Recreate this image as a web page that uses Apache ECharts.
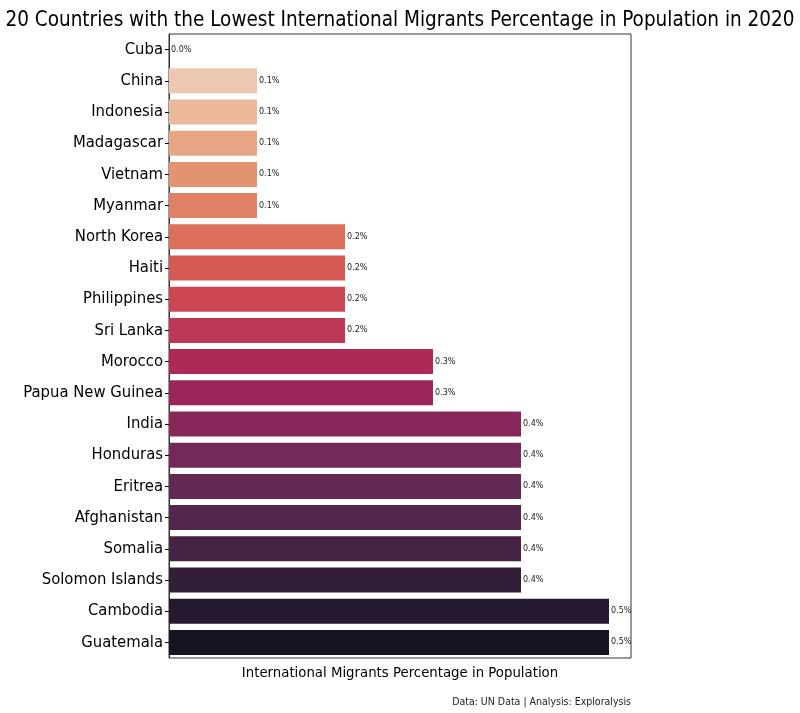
<!DOCTYPE html>
<html><head><meta charset="utf-8">
<script src="https://cdn.jsdelivr.net/npm/echarts@6/dist/echarts.min.js"></script>
<style>html,body{margin:0;padding:0;background:#fff}#c{width:800px;height:713px}</style>
</head><body><div id="c"></div>
<script>
const countries = ["Cuba","China","Indonesia","Madagascar","Vietnam","Myanmar","North Korea","Haiti","Philippines","Sri Lanka","Morocco","Papua New Guinea","India","Honduras","Eritrea","Afghanistan","Somalia","Solomon Islands","Cambodia","Guatemala"];
const migrantPct = [0.0,0.1,0.1,0.1,0.1,0.1,0.2,0.2,0.2,0.2,0.3,0.3,0.4,0.4,0.4,0.4,0.4,0.4,0.5,0.5];
const barColors = ["#f1d1bd","#ecc8b0","#eab89b","#e6a583","#e3936f","#e08064","#dc6e5c","#d65a54","#cc4753","#bd3856","#ad2a58","#9a2659","#872759","#742a58","#642953","#53264b","#442343","#331e38","#24192e","#151423"];
const titleText = "20 Countries with the Lowest International Migrants Percentage in Population in 2020";
const xName = "International Migrants Percentage in Population";
const sourceText = "Data: UN Data | Analysis: Exploralysis";

const chart = echarts.init(document.getElementById('c'), null, {renderer:'canvas'});
const F = "DejaVu Sans";
const FC = "DejaVu Sans Condensed";
chart.setOption({
  animation:false,
  backgroundColor:'#fff',
  title:{text:titleText,left:'center',top:5,textStyle:{fontFamily:FC,fontSize:20.5,fontWeight:'normal',color:'#000'}},
  grid:{left:169,right:169,top:34,bottom:55,show:true,borderColor:'#333',borderWidth:1,backgroundColor:'transparent',containLabel:false},
  xAxis:{type:'value',min:0,max:0.525,name:xName,nameLocation:'middle',nameGap:9,
    nameTextStyle:{fontFamily:F,fontSize:13.3,color:'#000'},
    axisLabel:{show:false},axisTick:{show:false},splitLine:{show:false},axisLine:{show:false}},
  yAxis:{type:'category',inverse:true,data:countries,
    axisLine:{show:true,lineStyle:{color:'#333'}},
    axisTick:{show:true,length:4,alignWithLabel:true,lineStyle:{color:'#000'}},
    axisLabel:{fontFamily:FC,fontSize:16.5,color:'#000',margin:6},
    splitLine:{show:false}},
  series:[{type:'bar',barWidth:'80%',
    data:migrantPct.map((v,i)=>({value:v,itemStyle:{color:barColors[i]}})),
    label:{show:true,position:'right',distance:2,fontFamily:F,fontSize:8,color:'#222',
      formatter:p=>p.value.toFixed(1)+'%'}}],
  graphic:[{type:'text',right:169,top:697,style:{text:sourceText,fontFamily:FC,fontSize:10.5,fill:'#222'}}]
});
</script></body></html>
